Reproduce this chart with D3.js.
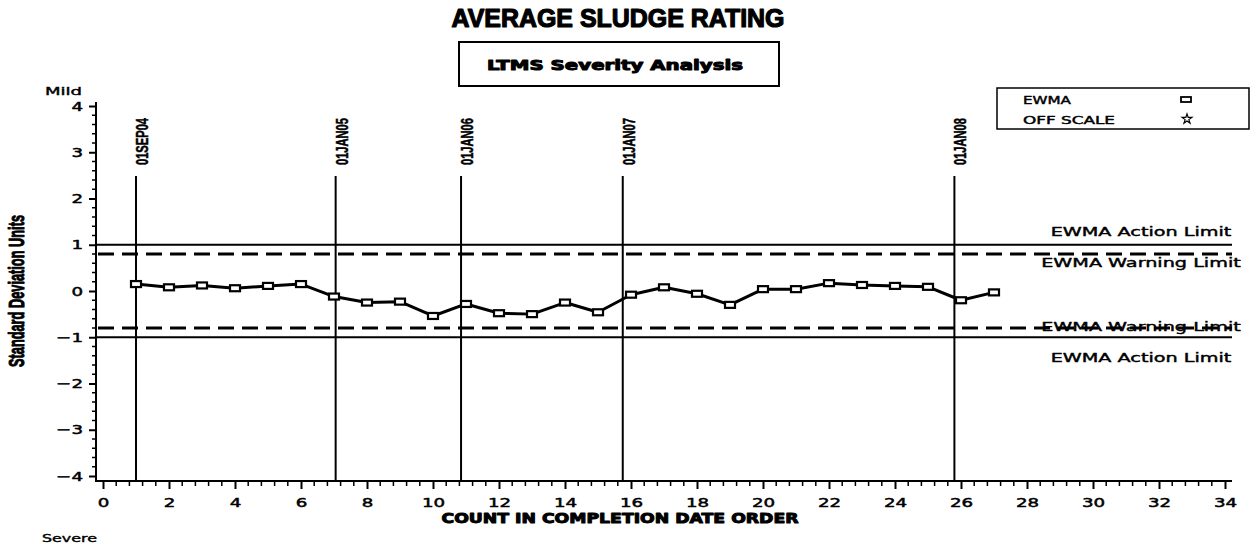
<!DOCTYPE html>
<html>
<head>
<meta charset="utf-8">
<script src="https://cdn.jsdelivr.net/npm/d3@7"></script>
<style>
  body { margin: 0; background: #fff; }
  svg text { fill: #000; }
</style>
</head>
<body>
<svg id="chart" width="1257" height="544"></svg>
<script>
const svg = d3.select('#chart')

// data
const testCount = [1,2,3,4,5,6,7,8,9,10,11,12,13,14,15,16,17,18,19,20,21,22,23,24,25,26,27]
const ewma = [0.15,0.08,0.12,0.06,0.11,0.15,-0.12,-0.25,-0.23,-0.54,-0.28,-0.48,-0.50,-0.25,-0.46,-0.08,0.08,-0.06,-0.30,0.04,0.04,0.17,0.13,0.11,0.09,-0.20,-0.03]
const dateLabels = ['01SEP04','01JAN05','01JAN06','01JAN07','01JAN08']
const datePositions = [1, 7.05, 10.85, 15.75, 25.8]
const actionLimits = [1, -1]
const warningLimits = [0.8, -0.8]
const actionLabels = ['EWMA Action Limit', 'EWMA Action Limit']
const warningLabels = ['EWMA Warning Limit', 'EWMA Warning Limit']
const yTickValues = [-4,-3,-2,-1,0,1,2,3,4]
const xTickValues = [0,2,4,6,8,10,12,14,16,18,20,22,24,26,28,30,32,34]

const wideFont = '"DejaVu Sans", sans-serif'
const narrowFont = '"Liberation Sans Narrow", "Liberation Sans", Arial, sans-serif'
const heavyFont = '"DejaVu Sans", sans-serif'

const xScale = d3.scaleLinear().domain([0, 34]).range([103, 1225])
const yScale = d3.scaleLinear().domain([-4, 4]).range([476, 106])

const axisLeftX = 96
const axisBottomY = 481
const plotRight = 1232

// stretch text horizontally like the old SAS hardware font
const widen = (sel, f) => {
	sel.each(function () {
		const l = this.getComputedTextLength()
		d3.select(this).attr('textLength', l * f).attr('lengthAdjust', 'spacingAndGlyphs')
	})
}

// make a text heavier by stroking it
const heavy = (sel, w) => sel.attr('stroke', '#000').attr('stroke-width', w).attr('stroke-linejoin', 'round')

// titles
svg.append('text')
	.attr('x', 618).attr('y', 27)
	.attr('text-anchor', 'middle')
	.style('font-family', narrowFont).style('font-weight', 'bold').style('font-size', '26px')
	.attr('textLength', 333).attr('lengthAdjust', 'spacingAndGlyphs')
	.call(heavy, 1.2)
	.text('AVERAGE SLUDGE RATING')

svg.append('rect')
	.attr('x', 459).attr('y', 42).attr('width', 320).attr('height', 44)
	.attr('fill', 'none').attr('stroke', '#000').attr('stroke-width', 2)

svg.append('text')
	.attr('x', 615).attr('y', 70)
	.attr('text-anchor', 'middle')
	.style('font-family', heavyFont).style('font-weight', 'bold').style('font-size', '14px')
	.attr('textLength', 256).attr('lengthAdjust', 'spacingAndGlyphs')
	.call(heavy, 1)
	.text('LTMS Severity Analysis')

// y axis
const yAxis = d3.axisLeft(yScale).tickValues(yTickValues).tickSize(7).tickPadding(6).tickSizeOuter(0)
const yG = svg.append('g').attr('transform', `translate(${axisLeftX},0)`).call(yAxis)
yG.select('path.domain').remove()
yG.selectAll('.tick line').attr('stroke-width', 2)
yG.selectAll('.tick text')
	.style('font-family', wideFont).style('font-size', '13px')
	.call(heavy, 0.5)
	.call(widen, 1.4)

// y minor ticks every 0.2
const yMinor = d3.range(-40, 41, 2).map(d => d / 10).filter(d => !Number.isInteger(d))
svg.append('g').selectAll('line').data(yMinor).enter().append('line')
	.attr('x1', axisLeftX - 4).attr('x2', axisLeftX)
	.attr('y1', d => yScale(d)).attr('y2', d => yScale(d))
	.attr('stroke', '#000').attr('stroke-width', 1.5)

svg.append('line')
	.attr('x1', axisLeftX).attr('x2', axisLeftX)
	.attr('y1', 102).attr('y2', axisBottomY + 1)
	.attr('stroke', '#000').attr('stroke-width', 2)

// x axis
const xAxis = d3.axisBottom(xScale).tickValues(xTickValues).tickSize(8).tickPadding(9).tickSizeOuter(0)
const xG = svg.append('g').attr('transform', `translate(0,${axisBottomY})`).call(xAxis)
xG.select('path.domain').remove()
xG.selectAll('.tick line').attr('stroke-width', 2)
xG.selectAll('.tick text')
	.style('font-family', wideFont).style('font-size', '13px')
	.call(heavy, 0.5)
	.call(widen, 1.4)

const xMinor = d3.range(0, 341, 4).map(d => d / 10).filter(d => d % 2 !== 0)
svg.append('g').selectAll('line').data(xMinor).enter().append('line')
	.attr('x1', d => xScale(d)).attr('x2', d => xScale(d))
	.attr('y1', axisBottomY).attr('y2', axisBottomY + 5)
	.attr('stroke', '#000').attr('stroke-width', 1.5)

svg.append('line')
	.attr('x1', axisLeftX - 1).attr('x2', plotRight)
	.attr('y1', axisBottomY).attr('y2', axisBottomY)
	.attr('stroke', '#000').attr('stroke-width', 2)

// axis titles
svg.append('text')
	.attr('transform', 'translate(24,291) rotate(-90)')
	.attr('text-anchor', 'middle')
	.style('font-family', narrowFont).style('font-weight', 'bold').style('font-size', '22px')
	.attr('textLength', 152).attr('lengthAdjust', 'spacingAndGlyphs')
	.call(heavy, 1)
	.text('Standard Deviation Units')

svg.append('text')
	.attr('x', 620).attr('y', 523)
	.attr('text-anchor', 'middle')
	.style('font-family', heavyFont).style('font-weight', 'bold').style('font-size', '14px')
	.attr('textLength', 357).attr('lengthAdjust', 'spacingAndGlyphs')
	.call(heavy, 1)
	.text('COUNT IN COMPLETION DATE ORDER')

svg.append('text')
	.attr('x', 45).attr('y', 95)
	.style('font-family', wideFont).style('font-size', '11px')
	.attr('textLength', 37).attr('lengthAdjust', 'spacingAndGlyphs')
	.call(heavy, 0.4)
	.text('Mild')

svg.append('text')
	.attr('x', 42).attr('y', 542)
	.style('font-family', wideFont).style('font-size', '11px')
	.attr('textLength', 55).attr('lengthAdjust', 'spacingAndGlyphs')
	.call(heavy, 0.4)
	.text('Severe')

// date reference lines
const refs = svg.append('g').selectAll('g').data(dateLabels).enter().append('g')
refs.append('line')
	.attr('x1', (d, i) => xScale(datePositions[i])).attr('x2', (d, i) => xScale(datePositions[i]))
	.attr('y1', 176).attr('y2', axisBottomY)
	.attr('stroke', '#000').attr('stroke-width', 2)
refs.append('text')
	.attr('transform', (d, i) => `translate(${xScale(datePositions[i]) + 12},165) rotate(-90)`)
	.style('font-family', narrowFont).style('font-weight', 'bold').style('font-size', '16px')
	.attr('textLength', 47).attr('lengthAdjust', 'spacingAndGlyphs')
	.call(heavy, 0.5)
	.text(d => d)

// limits
svg.append('g').selectAll('line').data(actionLimits).enter().append('line')
	.attr('x1', axisLeftX).attr('x2', plotRight)
	.attr('y1', d => yScale(d)).attr('y2', d => yScale(d))
	.attr('stroke', '#000').attr('stroke-width', 2)

svg.append('g').selectAll('line').data(warningLimits).enter().append('line')
	.attr('x1', axisLeftX + 2).attr('x2', plotRight)
	.attr('y1', d => yScale(d)).attr('y2', d => yScale(d))
	.attr('stroke', '#000').attr('stroke-width', 3)
	.attr('stroke-dasharray', '16 8')

const labelX = 1141
svg.append('g').selectAll('text').data(actionLimits).enter().append('text')
	.attr('x', labelX)
	.attr('y', d => d > 0 ? yScale(d) - 9 : yScale(d) + 25)
	.attr('text-anchor', 'middle')
	.style('font-family', wideFont).style('font-size', '12px')
	.call(heavy, 0.4)
	.text((d, i) => actionLabels[i])
	.call(widen, 1.6)

svg.append('g').selectAll('text').data(warningLimits).enter().append('text')
	.attr('x', labelX)
	.attr('y', d => d > 0 ? yScale(d) + 13 : yScale(d) + 3)
	.attr('text-anchor', 'middle')
	.style('font-family', wideFont).style('font-size', '12px')
	.call(heavy, 0.4)
	.text((d, i) => warningLabels[i])
	.call(widen, 1.6)

// EWMA series
const line = d3.line()
	.x((d, i) => xScale(testCount[i]))
	.y(d => yScale(d))

svg.append('path')
	.datum(ewma)
	.attr('d', line)
	.attr('fill', 'none').attr('stroke', '#000').attr('stroke-width', 3)
	.attr('stroke-linejoin', 'round')

svg.append('g').selectAll('rect').data(ewma).enter().append('rect')
	.attr('x', (d, i) => xScale(testCount[i]) - 5)
	.attr('y', d => yScale(d) - 3)
	.attr('width', 10).attr('height', 6)
	.attr('fill', '#fff').attr('stroke', '#000').attr('stroke-width', 2.2)

// legend
svg.append('rect')
	.attr('x', 997).attr('y', 88).attr('width', 252).attr('height', 41)
	.attr('fill', 'none').attr('stroke', '#000').attr('stroke-width', 1.5)

svg.append('text')
	.attr('x', 1023).attr('y', 104)
	.style('font-family', wideFont).style('font-size', '10px')
	.attr('textLength', 48).attr('lengthAdjust', 'spacingAndGlyphs')
	.call(heavy, 0.4)
	.text('EWMA')
svg.append('text')
	.attr('x', 1023).attr('y', 124)
	.style('font-family', wideFont).style('font-size', '10px')
	.attr('textLength', 92).attr('lengthAdjust', 'spacingAndGlyphs')
	.call(heavy, 0.4)
	.text('OFF SCALE')

svg.append('rect')
	.attr('x', 1181).attr('y', 97).attr('width', 10).attr('height', 5)
	.attr('fill', '#fff').attr('stroke', '#000').attr('stroke-width', 1.8)

svg.append('path')
	.attr('d', d3.symbol(d3.symbolStar, 30)())
	.attr('transform', 'translate(1187,119)')
	.attr('fill', 'none').attr('stroke', '#000').attr('stroke-width', 1.2)
</script>
</body>
</html>
